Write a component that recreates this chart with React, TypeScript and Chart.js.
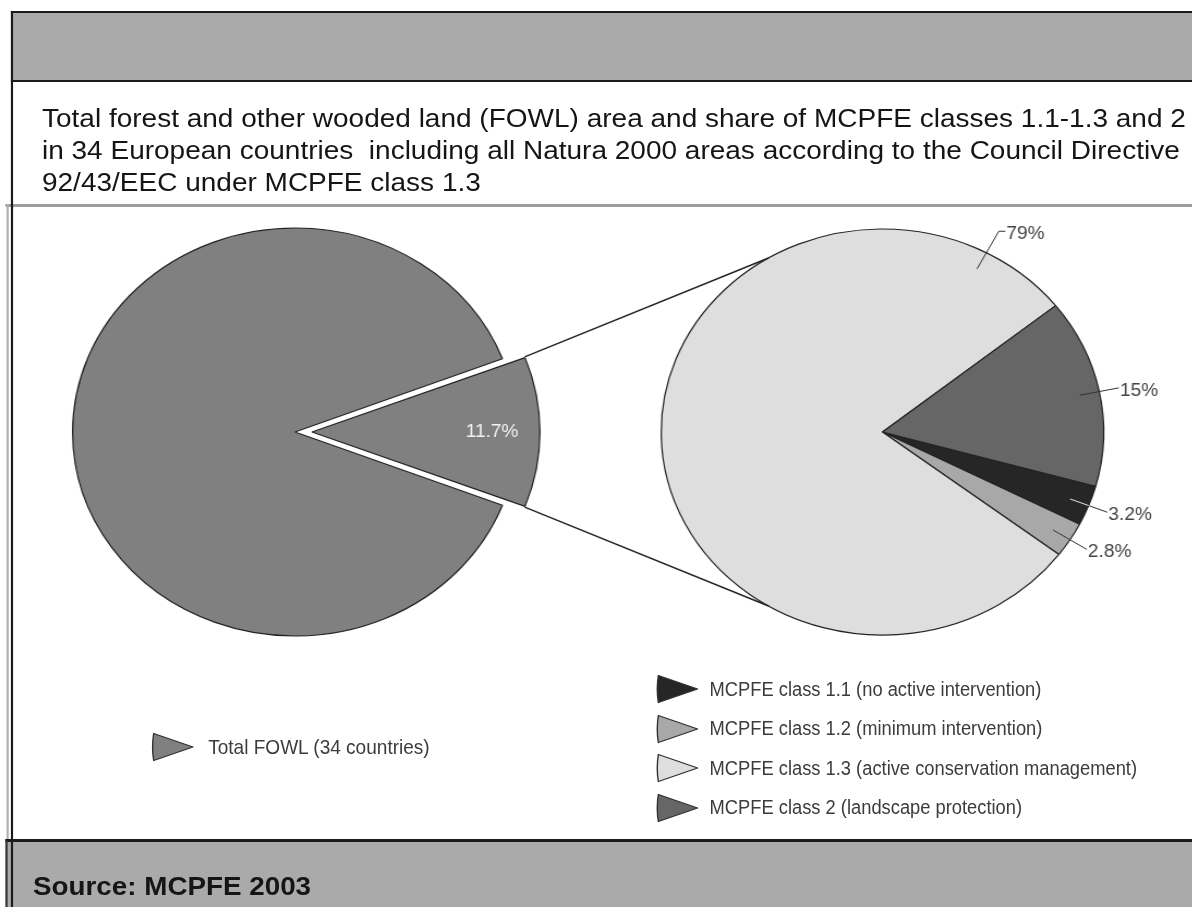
import React, { useEffect, useRef } from 'react';
import { Chart, registerables } from 'chart.js';

Chart.register(...registerables);

// ---------- data ----------
const titleLines = [
  'Total forest and other wooded land (FOWL) area and share of MCPFE classes 1.1-1.3 and 2',
  'in 34 European countries  including all Natura 2000 areas according to the Council Directive',
  '92/43/EEC under MCPFE class 1.3',
];
const sourceText = 'Source: MCPFE 2003';

const leftLegendLabels = ['Total FOWL (34 countries)'];
const leftLegendColors = ['#808080'];
const leftLabels = ['MCPFE classes 1.1-1.3 and 2', 'Other FOWL'];
const leftValues = [11.7, 88.3];
const leftColors = ['#808080', '#808080'];

const rightLabels = [
  'MCPFE class 1.1 (no active intervention)',
  'MCPFE class 1.2 (minimum intervention)',
  'MCPFE class 1.3 (active conservation management)',
  'MCPFE class 2 (landscape protection)',
];
const rightValues = [3.2, 2.8, 79, 15];
const rightColors = ['#262626', '#a8a8a8', '#dedede', '#666666'];

// ---------- layout ----------
const K = 1.09; // horizontal stretch of the whole figure
const AREA_W = 1094;
const AREA_H = 632;
const AREA_TOP = 207;
const LEFT_CX = 270.6;
const RIGHT_CX = 809.6;
const CY = 225;
const LEFT_R = 204;
const RIGHT_R = 203;
const LEFT_OFFSET = 62.4; // chart.js divides arc offset by 4
const CONNECT_ANGLE = (121 * Math.PI) / 180;
const LABEL_FONT = '17.5px "Liberation Sans", Arial, sans-serif';
const LEGEND_FONT = '"Liberation Sans", Arial, sans-serif';
const LEGEND_SQUEEZE = 0.84;

function sliceGeom(arc: any) {
  const p = arc.getProps(['x', 'y', 'startAngle', 'endAngle', 'outerRadius', 'circumference'], true);
  const t = (arc.options.offset || 0) / 4;
  const mid = (p.startAngle + p.endAngle) / 2;
  const circ = p.endAngle - p.startAngle;
  const fix = 1 - Math.sin(Math.min(Math.PI, circ));
  return {
    x: p.x + Math.cos(mid) * t,
    y: p.y + Math.sin(mid) * t,
    r: p.outerRadius + t * fix,
    start: p.startAngle,
    end: p.endAngle,
    mid,
  };
}

function Triangle({ color }: { color: string }) {
  return (
    <svg width={40} height={30} style={{ display: 'block', flex: '0 0 auto' }}>
      <path d="M39 15 L3 1.5 Q1 15 3 28.5 Z" fill={color} stroke="#333" strokeWidth={1.3} strokeLinejoin="round" />
    </svg>
  );
}

function LegendText({ text, size }: { text: string; size: number }) {
  return (
    <span
      style={{
        display: 'inline-block',
        fontFamily: LEGEND_FONT,
        fontSize: size,
        color: '#3c3c3c',
        whiteSpace: 'nowrap',
        transform: `scaleX(${LEGEND_SQUEEZE})`,
        transformOrigin: '0 50%',
      }}
    >
      {text}
    </span>
  );
}

export default function App() {
  const leftRef = useRef<HTMLCanvasElement>(null);
  const rightRef = useRef<HTMLCanvasElement>(null);

  useEffect(() => {
    const leftPlugin = {
      id: 'leftLabel',
      afterDatasetsDraw(chart: any) {
        const g = sliceGeom(chart.getDatasetMeta(0).data[0]);
        const ctx = chart.ctx;
        ctx.save();
        ctx.font = LABEL_FONT;
        ctx.fillStyle = '#f2f2f2';
        ctx.textAlign = 'center';
        ctx.textBaseline = 'middle';
        ctx.fillText(`${leftValues[0]}%`, g.x + Math.cos(g.mid) * g.r * 0.79, g.y + Math.sin(g.mid) * g.r * 0.79);
        ctx.restore();
      },
    };

    const left = new Chart(leftRef.current as HTMLCanvasElement, {
      type: 'pie',
      data: {
        labels: leftLabels,
        datasets: [
          {
            data: leftValues,
            backgroundColor: leftColors,
            borderColor: '#222',
            borderWidth: 1.2,
            offset: [LEFT_OFFSET, 0],
          } as any,
        ],
      },
      options: {
        responsive: true,
        maintainAspectRatio: false,
        animation: false,
        events: [],
        rotation: 90 - (leftValues[0] * 3.6) / 2,
        radius: LEFT_R,
        layout: { padding: { left: 0, top: 0, right: AREA_W - 2 * LEFT_CX, bottom: AREA_H - 2 * CY } },
        plugins: { legend: { display: false }, tooltip: { enabled: false } },
      } as any,
      plugins: [leftPlugin],
    });

    const labelAngles: (number | null)[] = [null, null, (-62 * Math.PI) / 180, null];

    const rightPlugin = {
      id: 'rightDecor',
      afterDatasetsDraw(chart: any) {
        const ctx = chart.ctx;
        const meta = chart.getDatasetMeta(0);
        const ra = meta.data[0].getProps(['x', 'y', 'outerRadius'], true);
        const lg = sliceGeom(left.getDatasetMeta(0).data[0]);
        ctx.save();
        // connector lines from exploded slice to the second pie
        ctx.strokeStyle = '#222';
        ctx.lineWidth = 1.4;
        const corners = [lg.start, lg.end].map((a) => [lg.x + lg.r * Math.cos(a), lg.y + lg.r * Math.sin(a)]);
        const targets = [-CONNECT_ANGLE, CONNECT_ANGLE].map((a) => [
          ra.x + ra.outerRadius * Math.cos(a),
          ra.y + ra.outerRadius * Math.sin(a),
        ]);
        corners.forEach((c, i) => {
          ctx.beginPath();
          ctx.moveTo(c[0], c[1]);
          ctx.lineTo(targets[i][0], targets[i][1]);
          ctx.stroke();
        });
        // data labels with leader lines
        ctx.font = LABEL_FONT;
        ctx.textAlign = 'left';
        ctx.textBaseline = 'middle';
        meta.data.forEach((arc: any, i: number) => {
          const p = arc.getProps(['x', 'y', 'startAngle', 'endAngle', 'outerRadius'], true);
          const special = labelAngles[i];
          const ang = special ?? (p.startAngle + p.endAngle) / 2;
          const R = p.outerRadius;
          const r1 = R * 0.91;
          const r2 = special != null ? R * 1.12 : R * 1.09;
          const sx = p.x + Math.cos(ang) * r1;
          const sy = p.y + Math.sin(ang) * r1;
          let ex = p.x + Math.cos(ang) * r2;
          const ey = p.y + Math.sin(ang) * r2;
          ctx.strokeStyle = i === 0 ? '#e8e8e8' : '#333';
          ctx.lineWidth = 1;
          ctx.beginPath();
          ctx.moveTo(sx, sy);
          ctx.lineTo(ex, ey);
          if (special != null) {
            ctx.lineTo(ex + 6, ey);
            ex += 6;
          }
          ctx.stroke();
          if (i === 0) {
            ctx.strokeStyle = '#333';
            ctx.beginPath();
            ctx.moveTo(p.x + Math.cos(ang) * R, p.y + Math.sin(ang) * R);
            ctx.lineTo(ex, ey);
            ctx.stroke();
          }
          ctx.fillStyle = '#444';
          ctx.fillText(`${rightValues[i]}%`, ex + 1, ey + 3);
        });
        ctx.restore();
      },
    };

    const right = new Chart(rightRef.current as HTMLCanvasElement, {
      type: 'pie',
      data: {
        labels: rightLabels,
        datasets: [
          {
            data: rightValues,
            backgroundColor: rightColors,
            borderColor: '#222',
            borderWidth: 1.2,
          },
        ],
      },
      options: {
        responsive: true,
        maintainAspectRatio: false,
        animation: false,
        events: [],
        rotation: 105.5,
        radius: RIGHT_R,
        layout: { padding: { left: 2 * RIGHT_CX - AREA_W, top: 0, right: 0, bottom: AREA_H - 2 * CY } },
        plugins: { legend: { display: false }, tooltip: { enabled: false } },
      } as any,
      plugins: [rightPlugin],
    });

    return () => {
      right.destroy();
      left.destroy();
    };
  }, []);

  const abs = (s: React.CSSProperties): React.CSSProperties => ({ position: 'absolute', boxSizing: 'border-box', ...s });

  return (
    <div style={{ position: 'absolute', left: 0, top: 0, width: 1192, height: 907, overflow: 'hidden', background: '#fff' }}>
      <div style={abs({ left: 0, top: 0, width: AREA_W, height: 907, transform: `scaleX(${K})`, transformOrigin: '0 0' })}>
        {/* top band */}
        <div style={abs({ left: 10, top: 11, width: 1100, height: 71, background: '#aaaaaa', borderTop: '2px solid #1b1b1b', borderBottom: '2px solid #1b1b1b' })} />
        {/* separator under title */}
        <div style={abs({ left: 5, top: 204, width: 1100, height: 3, background: '#9e9e9e' })} />
        <div style={abs({ left: 5.5, top: 204, width: 2, height: 636, background: '#b0b0b0' })} />
        {/* bottom band */}
        <div style={abs({ left: 4.5, top: 839, width: 1100, height: 70, background: '#aaaaaa', borderTop: '3px solid #1b1b1b', borderLeft: '2px solid #3a3a3a' })} />
        {/* left black frame line */}
        <div style={abs({ left: 10, top: 11, width: 2, height: 900, background: '#1b1b1b' })} />

        {/* title */}
        <div
          style={abs({
            left: 38.5,
            top: 102,
            fontFamily: '"Liberation Sans", Arial, sans-serif',
            fontSize: 25.7,
            lineHeight: '32px',
            color: '#151515',
            whiteSpace: 'pre',
          })}
        >
          {titleLines.map((l, i) => (
            <div key={i}>{l}</div>
          ))}
        </div>

        {/* charts */}
        <div style={abs({ left: 0, top: AREA_TOP, width: AREA_W, height: AREA_H })}>
          <canvas ref={leftRef} />
        </div>
        <div style={abs({ left: 0, top: AREA_TOP, width: AREA_W, height: AREA_H })}>
          <canvas ref={rightRef} />
        </div>

        {/* left legend */}
        <div style={abs({ left: 137.6, top: 732, height: 30, display: 'flex', alignItems: 'center' })}>
          {leftLegendLabels.map((l, i) => (
            <React.Fragment key={i}>
              <Triangle color={leftLegendColors[i]} />
              <span style={{ marginLeft: 13 }}>
                <LegendText text={l} size={20.8} />
              </span>
            </React.Fragment>
          ))}
        </div>

        {/* right legend */}
        <div style={abs({ left: 601, top: 669.5, display: 'flex', flexDirection: 'column' })}>
          {rightLabels.map((l, i) => (
            <div key={i} style={{ height: 39.5, display: 'flex', alignItems: 'center' }}>
              <Triangle color={rightColors[i]} />
              <span style={{ marginLeft: 10 }}>
                <LegendText text={l} size={20} />
              </span>
            </div>
          ))}
        </div>

        {/* source */}
        <div
          style={abs({
            left: 30.3,
            top: 872.7,
            fontFamily: '"Liberation Sans", Arial, sans-serif',
            fontWeight: 'bold',
            fontSize: 25.5,
            lineHeight: '27px',
            color: '#151515',
            whiteSpace: 'nowrap',
          })}
        >
          {sourceText}
        </div>
      </div>
    </div>
  );
}
